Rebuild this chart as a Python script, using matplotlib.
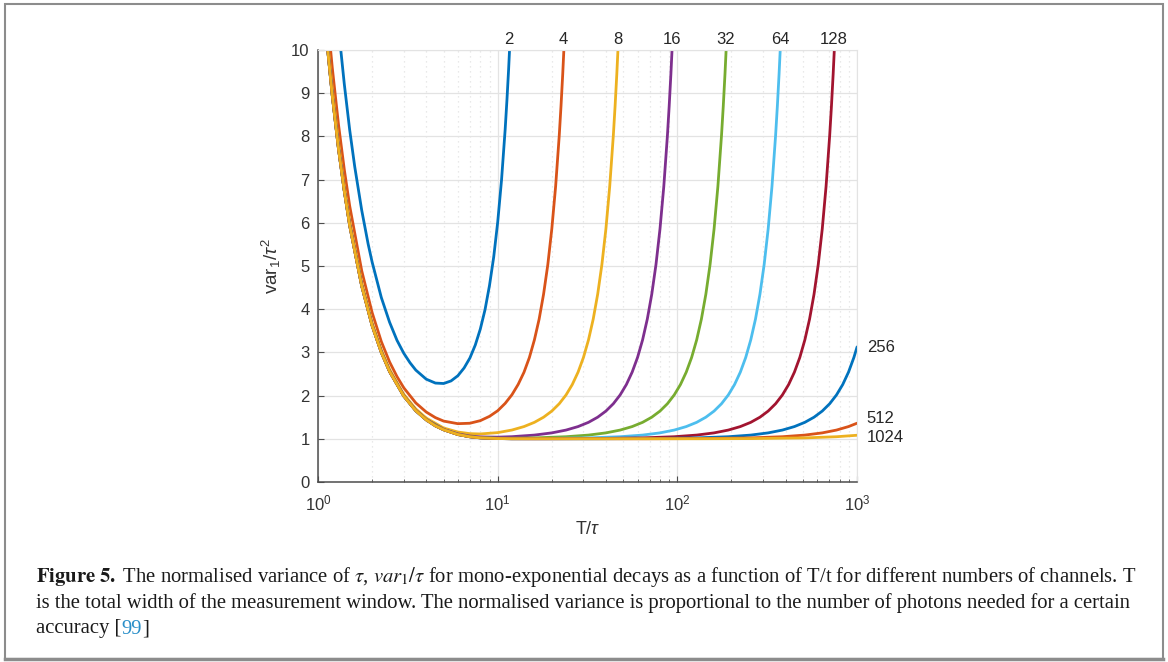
import matplotlib
matplotlib.use('agg')
import matplotlib.pyplot as plt
from matplotlib.patches import Rectangle
from matplotlib.lines import Line2D

plt.rcParams['font.family'] = ['Liberation Sans', 'DejaVu Sans']
plt.rcParams['mathtext.fontset'] = 'custom'
plt.rcParams['mathtext.rm'] = 'Liberation Sans'
plt.rcParams['mathtext.it'] = 'Liberation Sans:italic'
plt.rcParams['mathtext.bf'] = 'Liberation Sans:bold'

# normalised variance var1/tau^2 vs T/tau, one curve per channel count
channels = [2, 4, 8, 16, 32, 64, 128, 256, 512, 1024]

x_2 = [1.3, 1.4, 1.5, 1.6, 1.75, 1.9, 2, 2.25, 2.5, 2.75, 3, 3.25, 3.5, 4, 4.5, 5, 5.5, 6,
       6.5, 7, 7.5, 8, 8.5, 9, 9.5, 10, 10.5, 11, 11.25, 11.5, 11.7]
y_2 = [10.51, 9.21, 8.15, 7.30, 6.29, 5.51, 5.09, 4.27, 3.70, 3.28, 2.98, 2.76, 2.59, 2.38,
       2.29, 2.28, 2.34, 2.46, 2.64, 2.87, 3.17, 3.54, 3.99, 4.55, 5.21, 6.02, 6.99, 8.16,
       8.83, 9.56, 10.21]

x_4 = [1.12, 1.2, 1.3, 1.4, 1.5, 1.75, 2, 2.25, 2.5, 2.75, 3, 3.5, 4, 4.5, 5, 6, 7, 8, 9, 10,
       11, 12, 13, 14, 15, 16, 17, 18, 19, 20, 21, 22, 22.5, 23, 23.5]
y_4 = [10.90, 9.59, 8.27, 7.23, 6.39, 4.89, 3.92, 3.25, 2.78, 2.44, 2.18, 1.83, 1.62, 1.49,
       1.41, 1.35, 1.36, 1.42, 1.52, 1.65, 1.82, 2.02, 2.26, 2.54, 2.88, 3.29, 3.77, 4.35,
       5.03, 5.86, 6.84, 8.02, 8.70, 9.44, 10.26]

x_8 = [1.1, 1.2, 1.3, 1.4, 1.5, 1.75, 2, 2.25, 2.5, 3, 3.5, 4, 5, 6, 7, 8, 10, 12, 14, 16,
       18, 20, 22, 24, 26, 28, 30, 32, 34, 36, 38, 40, 42, 44, 45, 46, 47]
y_8 = [10.70, 9.10, 7.85, 6.84, 6.05, 4.62, 3.69, 3.06, 2.61, 2.03, 1.69, 1.48, 1.25, 1.157,
       1.119, 1.112, 1.143, 1.203, 1.283, 1.381, 1.500, 1.642, 1.812, 2.015, 2.256, 2.543,
       2.883, 3.289, 3.771, 4.347, 5.035, 5.857, 6.841, 8.023, 8.700, 9.442, 10.26]

x_16 = [1.1, 1.2, 1.3, 1.4, 1.5, 1.75, 2, 2.25, 2.5, 3, 3.5, 4, 5, 6, 7, 8, 10, 12, 16, 20,
        24, 28, 32, 36, 40, 44, 48, 52, 56, 60, 64, 68, 72, 76, 80, 84, 88, 90, 92, 94]
y_16 = [10.57, 8.99, 7.75, 6.76, 5.97, 4.56, 3.64, 3.02, 2.57, 2.00, 1.66, 1.448, 1.218,
        1.113, 1.064, 1.044, 1.038, 1.049, 1.086, 1.137, 1.202, 1.283, 1.381, 1.500, 1.642,
        1.812, 2.015, 2.256, 2.543, 2.883, 3.289, 3.771, 4.347, 5.035, 5.857, 6.841, 8.023,
        8.700, 9.442, 10.26]

x_32 = [1.1, 1.2, 1.3, 1.4, 1.5, 1.75, 2, 2.25, 2.5, 3, 3.5, 4, 5, 6, 7, 8, 10, 12, 16, 24,
        32, 40, 48, 56, 64, 72, 80, 88, 96, 104, 112, 120, 128, 136, 144, 152, 160, 168, 176,
        180, 184, 188]
y_32 = [10.53, 8.96, 7.72, 6.74, 5.95, 4.55, 3.63, 3.01, 2.56, 1.99, 1.65, 1.44, 1.21, 1.102,
        1.051, 1.027, 1.013, 1.013, 1.021, 1.048, 1.086, 1.137, 1.202, 1.283, 1.381, 1.500,
        1.642, 1.812, 2.015, 2.256, 2.543, 2.883, 3.289, 3.771, 4.347, 5.035, 5.857, 6.841,
        8.023, 8.700, 9.442, 10.26]

# shared steep left branch of the large channel counts
left_x = [1.1, 1.2, 1.3, 1.4, 1.5, 1.75, 2, 2.25, 2.5, 3, 3.5, 4, 4.5, 5, 6, 7, 8, 10, 12]
left_y = [10.52, 8.95, 7.71, 6.74, 5.94, 4.54, 3.62, 3.00, 2.56, 1.99, 1.65, 1.44, 1.30, 1.21,
          1.10, 1.047, 1.022, 1.006, 1.002]

x_64 = [16, 32, 48, 64, 80, 96, 112, 128, 144, 160, 176, 192, 208, 224, 240, 256, 272, 288,
        304, 320, 336, 352, 360, 368, 376]
y_64 = [1.005, 1.021, 1.048, 1.086, 1.137, 1.202, 1.283, 1.381, 1.500, 1.642, 1.812, 2.015,
        2.256, 2.543, 2.883, 3.289, 3.771, 4.347, 5.035, 5.857, 6.841, 8.023, 8.700, 9.442, 10.26]

x_128 = [16, 32, 64, 96, 128, 160, 192, 224, 256, 288, 320, 352, 384, 416, 448, 480, 512, 544,
         576, 608, 640, 672, 704, 720, 736, 752]
y_128 = [1.001, 1.005, 1.021, 1.048, 1.086, 1.137, 1.202, 1.283, 1.381, 1.500, 1.642, 1.812,
         2.015, 2.256, 2.543, 2.883, 3.289, 3.771, 4.347, 5.035, 5.857, 6.841, 8.023, 8.700,
         9.442, 10.26]

x_256 = [32, 64, 128, 192, 256, 320, 384, 448, 512, 576, 640, 704, 768, 832, 896, 960, 1000]
y_256 = [1.001, 1.005, 1.021, 1.048, 1.086, 1.137, 1.202, 1.283, 1.381, 1.500, 1.642, 1.812,
         2.015, 2.256, 2.543, 2.883, 3.127]

x_512 = [64, 128, 256, 384, 512, 640, 768, 896, 1000]
y_512 = [1.001, 1.005, 1.021, 1.048, 1.086, 1.137, 1.202, 1.283, 1.361]

x_1024 = [128, 256, 512, 768, 1000]
y_1024 = [1.001, 1.005, 1.021, 1.048, 1.082]

top_labels = ['2', '4', '8', '16', '32', '64', '128']
top_label_x = [11.6, 23.3, 46.5, 93, 186, 372, 745]
side_labels = ['256', '512', '1024']
side_label_y = [3.12, 1.46, 1.04]

colours = ['#0072BD', '#D95319', '#EDB120', '#7E2F8E', '#77AC30',
           '#4DBEEE', '#A2142F', '#0072BD', '#D95319', '#EDB120']

series = [
    (x_2, y_2), (x_4, y_4), (x_8, y_8), (x_16, y_16), (x_32, y_32),
    (left_x + x_64, left_y + y_64), (left_x + x_128, left_y + y_128),
    (left_x + x_256, left_y + y_256), (left_x + x_512, left_y + y_512),
    (left_x + x_1024, left_y + y_1024),
]

fig = plt.figure(figsize=(11.68, 6.62), dpi=100)
ax = fig.add_axes([0.2723, 0.2719, 0.4615, 0.6526])

for (xs, ys), c in zip(series, colours):
    ax.plot(xs, ys, color=c, lw=2.0, solid_capstyle='round', solid_joinstyle='round')

ax.set_xscale('log')
ax.set_xlim(1, 1000)
ax.set_ylim(0, 10)
ax.set_yticks(range(11))
ax.set_axisbelow(True)
ax.grid(True, which='major', color='#e3e3e3', lw=0.9, ls='-')
ax.grid(True, which='minor', axis='x', color='#e3e3e3', lw=0.9, ls=(0, (1, 3)))
ax.tick_params(which='both', direction='in', colors='#4d4d4d', labelcolor='#333333',
               labelsize=12)
ax.tick_params(which='major', length=4)
ax.tick_params(which='minor', length=2.5)
ax.tick_params(axis='x', which='both', pad=8)
ax.tick_params(axis='y', pad=6)
for s in ['left', 'bottom']:
    ax.spines[s].set_color('#4d4d4d')
    ax.spines[s].set_linewidth(1.1)
for s in ['top', 'right']:
    ax.spines[s].set_color('#e3e3e3')

ax.set_xlabel(r'T/$\tau$', fontsize=13, color='#333333', labelpad=6)
ax.set_ylabel(r'var$_1$/$\tau^2$', fontsize=13.5, color='#333333', labelpad=6)

for lbl, x in zip(top_labels, top_label_x):
    ax.annotate(lbl, (x, 10), xytext=(0, 2), textcoords='offset points', ha='center',
                va='bottom', fontsize=12, color='#262626', annotation_clip=False)
for lbl, y in zip(side_labels, side_label_y):
    ax.annotate(lbl, (1000, y), xytext=(7, 0), textcoords='offset points', ha='left',
                va='center', fontsize=12, color='#262626', annotation_clip=False)

# caption
W, H = 1168, 662
cap = dict(fontsize=14.9, family='Liberation Serif', color='#1a1a1a', va='center',
           math_fontfamily='stix')
x0 = 36 / W
fig.text(x0, 1 - 577 / H,
         r'$\mathbf{Figure\ 5.}$ The normalised variance of $\tau$, $\mathit{var}_1/\tau$ for '
         r'mono-exponential decays as a function of T/t for different numbers of channels. T',
         **cap)
fig.text(x0, 1 - 603 / H,
         'is the total width of the measurement window. The normalised variance is proportional '
         'to the number of photons needed for a certain', **cap)
renderer = fig.canvas.get_renderer()
t1 = fig.text(x0, 1 - 629 / H, 'accuracy [', **cap)
bb = t1.get_window_extent(renderer)
t2 = fig.text(bb.x1 / W, 1 - 629 / H, '99', **dict(cap, color='#2a8fc9'))
bb = t2.get_window_extent(renderer)
fig.text(bb.x1 / W, 1 - 629 / H, ']', **cap)

# frame round the whole figure
fig.patches.append(Rectangle((5 / W, 1 - 659 / H), 1158 / W, 655 / H, transform=fig.transFigure,
                             fill=False, edgecolor='#8c8c8c', lw=1.5))
fig.lines.append(Line2D([5 / W, 1163 / W], [1 - 659 / H, 1 - 659 / H], transform=fig.transFigure,
                        color='#8c8c8c', lw=2.5))

fig.savefig('out.png', dpi=100)
